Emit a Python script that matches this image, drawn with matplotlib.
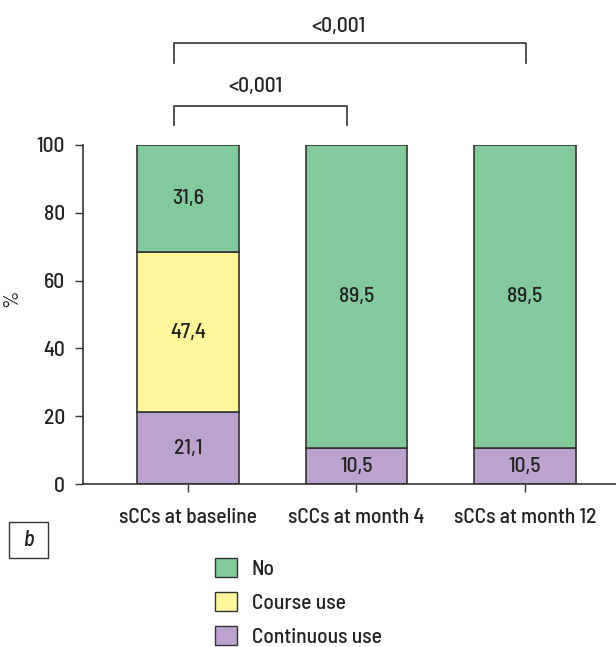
import matplotlib
matplotlib.use("Agg")
import matplotlib.pyplot as plt
from matplotlib.patches import Patch, Rectangle
from matplotlib import font_manager

categories = ["sCCs at baseline", "sCCs at month 4", "sCCs at month 12"]
continuous_use = [21.1, 10.5, 10.5]
course_use = [47.4, 0.0, 0.0]
no_use = [31.6, 89.5, 89.5]
series_names = ["No", "Course use", "Continuous use"]
p_labels = ["<0,001", "<0,001"]

names = {f.name for f in font_manager.fontManager.ttflist}
prefs = ["Barlow Semi Condensed", "Barlow Condensed", "Roboto Condensed", "PT Sans Narrow",
         "Archivo Narrow", "Fira Sans Condensed", "Encode Sans Condensed", "Liberation Sans Narrow"]
fam = next((p for p in prefs if p in names), "DejaVu Sans")
plt.rcParams['font.family'] = [fam, 'DejaVu Sans']
plt.rcParams['font.weight'] = 500

c_no = "#82ca9c"
c_course = "#fff79a"
c_cont = "#bba3ce"
edge = "#333333"
tc = "#222222"

fig = plt.figure(figsize=(6.16, 6.47), dpi=100)
W, H = 616, 647
ax = fig.add_axes([83 / W, 1 - 484 / H, (616 - 83) / W, (484 - 145) / H])
x = list(range(len(categories)))
bw = 0.605
ax.bar(x, continuous_use, bw, color=c_cont, edgecolor=edge, linewidth=1.2)
ax.bar(x, course_use, bw, bottom=continuous_use, color=c_course, edgecolor=edge, linewidth=1.2)
bottoms = [a + b for a, b in zip(continuous_use, course_use)]
ax.bar(x, no_use, bw, bottom=bottoms, color=c_no, edgecolor=edge, linewidth=1.2)

fs = 15.5
def fmt(v):
    return f"{v:.1f}".replace(".", ",")

for i in x:
    ax.text(i, continuous_use[i] / 2, fmt(continuous_use[i]), ha="center", va="center", fontsize=fs, color=tc)
    if course_use[i] > 0:
        ax.text(i, continuous_use[i] + course_use[i] / 2, fmt(course_use[i]),
                ha="center", va="center", fontsize=fs, color=tc)
    ax.text(i, bottoms[i] + no_use[i] / 2, fmt(no_use[i]), ha="center", va="center", fontsize=fs, color=tc)

ax.set_xlim(-0.623, 2.54)
ax.set_ylim(0, 100)
ax.set_yticks([0, 20, 40, 60, 80, 100])
ax.set_xticks(x)
ax.set_xticklabels(categories)
ax.tick_params(axis="both", labelsize=fs, colors=edge, labelcolor=tc, direction="out", length=6, width=1)
ax.tick_params(axis="x", pad=11)
ax.tick_params(axis="y", pad=7)
for s in ["top", "right"]:
    ax.spines[s].set_visible(False)
for s in ["left", "bottom"]:
    ax.spines[s].set_color(edge)
    ax.spines[s].set_linewidth(1.2)
ax.set_ylabel("%", fontsize=fs, color=tc)
ax.yaxis.set_label_coords((21 - 83) / 533, (484 - 298) / 339)
ax.patch.set_alpha(0)

def px(xp, yp):
    return xp / W, 1 - yp / H

def bracket(x0, x1, ytop, ybot, label, xtext, ytext):
    xs = [x0, x0, x1, x1]
    ys = [ybot, ytop, ytop, ybot]
    fig.add_artist(plt.Line2D([v / W for v in xs], [1 - v / H for v in ys], color=edge, lw=1.2))
    fig.text(xtext / W, 1 - ytext / H, label, ha="center", va="center", fontsize=fs, color=tc)

bracket(174, 526, 43, 63, p_labels[0], 338, 26)
bracket(174, 347, 106, 125, p_labels[1], 255, 86)

fig.add_artist(Rectangle(px(9, 558), 39 / W, 36 / H, transform=fig.transFigure,
                         facecolor="white", edgecolor=edge, lw=1))
fig.text(28.5 / W, 1 - 540 / H, "b", ha="center", va="center", fontsize=16, style="italic", color=tc)

handles = [Patch(facecolor=c, edgecolor=edge, linewidth=1) for c in (c_no, c_course, c_cont)]
fig.legend(handles, series_names, loc="upper left", bbox_to_anchor=(215 / W, 1 - 558 / H),
           frameon=False, fontsize=fs, handlelength=1.0, handleheight=1.0, handletextpad=0.7,
           labelspacing=0.6, borderpad=0, borderaxespad=0, labelcolor=tc)

fig.savefig("out.png", dpi=100)
